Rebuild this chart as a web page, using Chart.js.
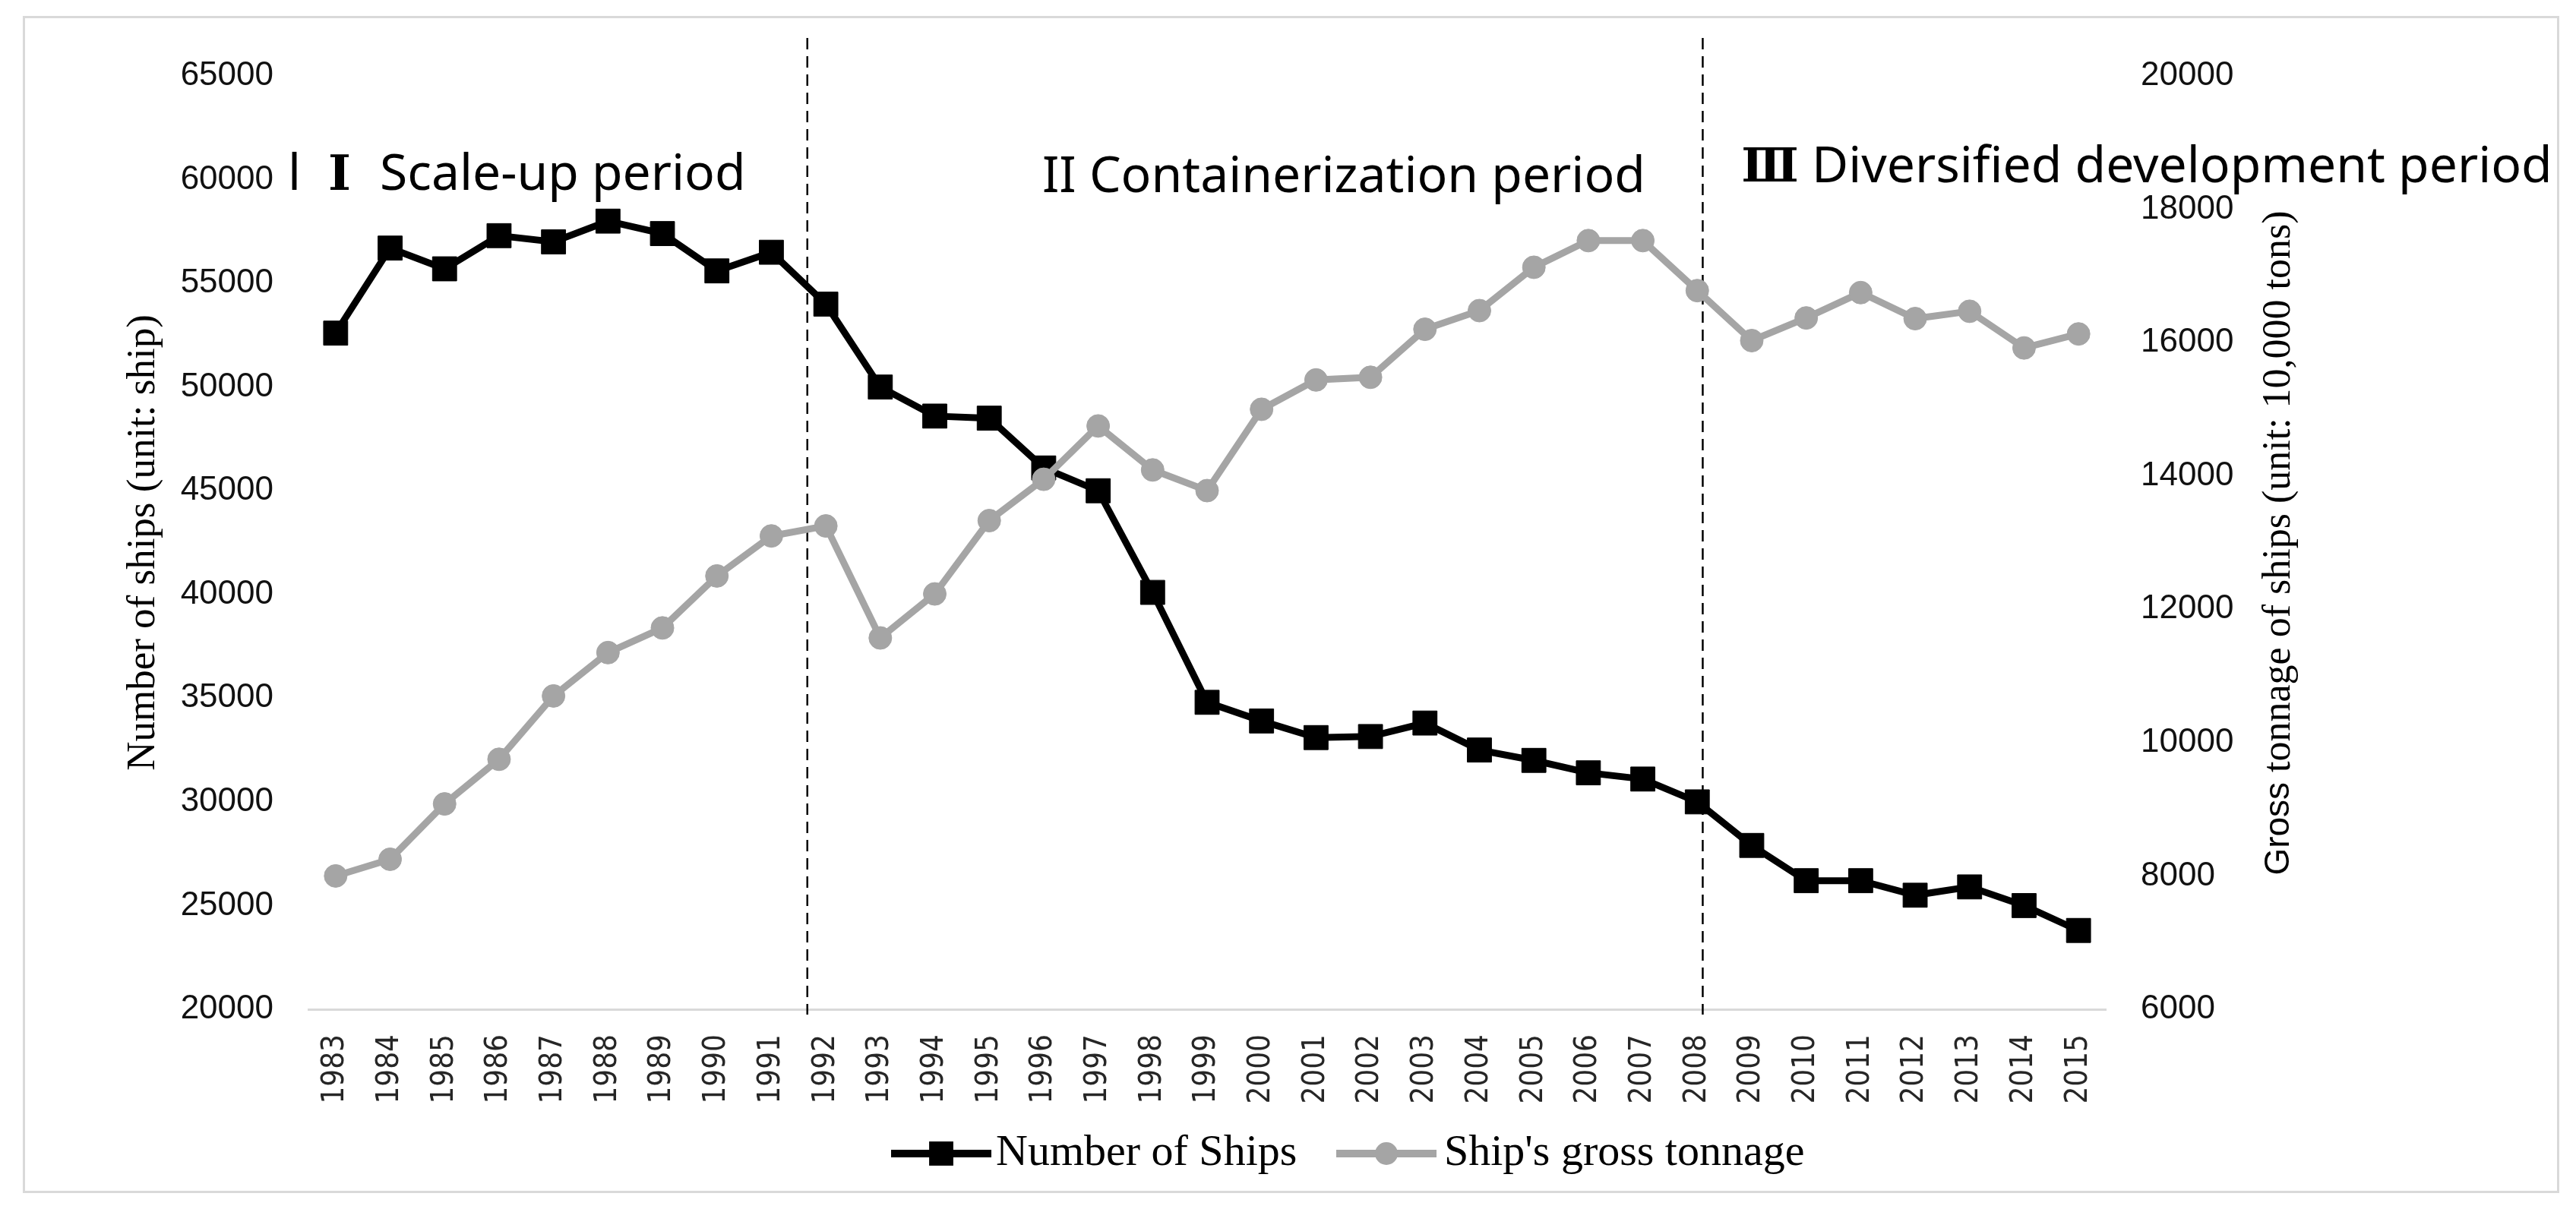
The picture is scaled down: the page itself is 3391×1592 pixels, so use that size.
<!DOCTYPE html>
<html>
<head>
<meta charset="utf-8">
<title>Number of ships and gross tonnage</title>
<script src="https://cdn.jsdelivr.net/npm/chart.js@4.4.0/dist/chart.umd.min.js"></script>
<style>
    html, body { margin: 0; padding: 0; background: #fff; }
    #wrap { width: 3391px; height: 1592px; }
</style>
</head>
<body>
<div id="wrap"><canvas id="ships-chart" width="3391" height="1592"></canvas></div>
<script>
// Categories and series
const years = ['1983', '1984', '1985', '1986', '1987', '1988', '1989', '1990', '1991', '1992',
    '1993', '1994', '1995', '1996', '1997', '1998', '1999', '2000', '2001', '2002',
    '2003', '2004', '2005', '2006', '2007', '2008', '2009', '2010', '2011', '2012',
    '2013', '2014', '2015'];
const shipCount = [52600, 56700, 55700, 57300, 57000, 58000, 57400, 55600, 56500, 54000,
    50000, 48600, 48500, 46100, 45000, 40100, 34800, 33900, 33100, 33150,
    33800, 32500, 32000, 31400, 31100, 30000, 27900, 26200, 26200, 25500,
    25900, 25000, 23800];
const grossTonnage = [8000, 8250, 9080, 9750, 10700, 11350, 11720, 12500, 13100, 13250,
    11570, 12230, 13330, 13950, 14750, 14090, 13780, 15000, 15440, 15480,
    16200, 16480, 17130, 17530, 17530, 16780, 16030, 16370, 16750, 16360,
    16470, 15920, 16130];

// Axis ranges: [min, max, step]
const shipAxis = [20000, 65000, 5000];
const tonnageAxis = [6000, 20000, 2000];

const seriesNames = ['Number of Ships', "Ship's gross tonnage"];
const periodNumerals = ['Ⅰ', '', 'Ⅲ'];
const periodNames = ['Scale-up period', 'II Containerization period', 'Diversified development period'];
// period boundaries, in category index units (1991|1992 and 2008)
const dividerAt = [8.66, 25.1];

const BLACK = '#000000';
const GRAY = '#A5A5A5';
const TICK_FONT = "'Liberation Sans', sans-serif";
const SERIF = "'Liberation Serif', serif";
const LABEL_FONT = "'Noto Sans', sans-serif";

// Frame + white background
const framePlugin = {
    id: 'frame',
    beforeDraw(chart) {
        const ctx = chart.ctx;
        ctx.save();
        ctx.fillStyle = '#ffffff';
        ctx.fillRect(0, 0, chart.width, chart.height);
        ctx.strokeStyle = '#d9d9d9';
        ctx.lineWidth = 3;
        ctx.strokeRect(31.5, 22.5, 3336, 1547);
        ctx.restore();
    }
};

// Dashed period dividers
const dividerPlugin = {
    id: 'dividers',
    beforeDatasetsDraw(chart) {
        const ctx = chart.ctx;
        const x = chart.scales.x;
        ctx.save();
        ctx.strokeStyle = BLACK;
        ctx.lineWidth = 2.5;
        ctx.setLineDash([15, 9]);
        dividerAt.forEach(idx => {
            const px = x.getPixelForValue(idx);
            ctx.beginPath();
            ctx.moveTo(px, 50);
            ctx.lineTo(px, chart.chartArea.bottom + 7);
            ctx.stroke();
        });
        ctx.restore();
    }
};

// Period captions
const periodPlugin = {
    id: 'periods',
    afterDatasetsDraw(chart) {
        const ctx = chart.ctx;
        ctx.save();
        ctx.fillStyle = BLACK;
        ctx.textBaseline = 'alphabetic';
        ctx.textAlign = 'left';
        ctx.font = `66px ${LABEL_FONT}`;
        // period I
        ctx.fillText('l', 379, 250);
        ctx.fillText(periodNames[0], 500, 250);
        // period II
        ctx.fillText(periodNames[1], 1372, 253);
        // period III
        ctx.fillText(periodNames[2], 2385, 240);
        // roman numerals (serif, as in the source)
        ctx.textAlign = 'center';
        ctx.font = "bold 64px 'DejaVu Serif', 'Noto Sans CJK SC', serif";
        ctx.fillText(periodNumerals[0], 447, 250);
        ctx.font = "bold 62px 'DejaVu Serif', 'Noto Sans CJK SC', serif";
        ctx.fillText(periodNumerals[2], 2330, 239);
        ctx.restore();
    }
};

// Right axis title: "Gross" in sans, rest in serif, reading bottom to top
const rightTitlePlugin = {
    id: 'rightTitle',
    afterDraw(chart) {
        const ctx = chart.ctx;
        const part1 = 'Gross';
        const part2 = ' tonnage of ships (unit: 10,000 tons)';
        const f1 = "46px 'Liberation Sans', sans-serif";
        const f2 = `52px ${SERIF}`;
        ctx.save();
        ctx.font = f1;
        const w1 = ctx.measureText(part1).width;
        ctx.font = f2;
        const w2 = ctx.measureText(part2).width;
        ctx.translate(3000, 715);
        ctx.rotate(-Math.PI / 2);
        ctx.fillStyle = BLACK;
        ctx.textBaseline = 'middle';
        ctx.textAlign = 'left';
        const start = -(w1 + w2) / 2;
        ctx.font = f1;
        ctx.fillText(part1, start, 0);
        ctx.font = f2;
        ctx.fillText(part2, start + w1, 0);
        ctx.restore();
    }
};

// Excel-like legend: line with marker through it
const legendPlugin = {
    id: 'lineLegend',
    afterDraw(chart) {
        const ctx = chart.ctx;
        const y = 1519;
        const items = [
            { x0: 1173, x1: 1305, tx: 1311, ds: chart.data.datasets[1] },
            { x0: 1759, x1: 1891, tx: 1901, ds: chart.data.datasets[0] }
        ];
        ctx.save();
        items.forEach(it => {
            const ds = it.ds;
            ctx.strokeStyle = ds.borderColor;
            ctx.lineWidth = 10;
            ctx.beginPath();
            ctx.moveTo(it.x0, y);
            ctx.lineTo(it.x1, y);
            ctx.stroke();
            const cx = (it.x0 + it.x1) / 2;
            ctx.fillStyle = ds.pointBackgroundColor;
            if (ds.pointStyle === 'rect') {
                const s = ds.pointRadius * Math.SQRT1_2;
                ctx.fillRect(cx - s, y - s, 2 * s, 2 * s);
            } else {
                ctx.beginPath();
                ctx.arc(cx, y, ds.pointRadius, 0, Math.PI * 2);
                ctx.fill();
            }
            ctx.fillStyle = BLACK;
            ctx.font = `58px ${SERIF}`;
            ctx.textBaseline = 'middle';
            ctx.textAlign = 'left';
            ctx.fillText(ds.label, it.tx, y);
        });
        ctx.restore();
    }
};

const ctx = document.getElementById('ships-chart');
const chart = new Chart(ctx.getContext('2d'), {
    type: 'line',
    data: {
        labels: years,
        datasets: [{
            label: seriesNames[1],
            data: grossTonnage,
            yAxisID: 'y1',
            borderColor: GRAY,
            backgroundColor: GRAY,
            borderWidth: 9,
            pointStyle: 'circle',
            pointRadius: 15,
            pointBackgroundColor: GRAY,
            pointBorderColor: GRAY,
            pointBorderWidth: 1,
            tension: 0
        }, {
            label: seriesNames[0],
            data: shipCount,
            yAxisID: 'y',
            borderColor: BLACK,
            backgroundColor: BLACK,
            borderWidth: 9,
            pointStyle: 'rect',
            pointRadius: 22.5,
            pointBackgroundColor: BLACK,
            pointBorderColor: BLACK,
            pointBorderWidth: 1,
            tension: 0
        }]
    },
    options: {
        responsive: false,
        devicePixelRatio: 1,
        animation: false,
        layout: {
            padding: { top: 100, bottom: 113, left: 0, right: 0 }
        },
        plugins: {
            legend: { display: false },
            tooltip: { enabled: false }
        },
        scales: {
            x: {
                offset: true,
                grid: { display: false, drawTicks: false },
                border: { display: true, color: '#d9d9d9', width: 3 },
                ticks: {
                    autoSkip: false,
                    minRotation: 90,
                    maxRotation: 90,
                    padding: 33,
                    color: '#262626',
                    font: { family: "'DejaVu Sans Condensed', 'DejaVu Sans', sans-serif", size: 40 }
                },
                afterFit(scale) { scale.height = 150; }
            },
            y: {
                position: 'left',
                min: shipAxis[0],
                max: shipAxis[1],
                grid: { display: false, drawTicks: false },
                border: { display: false },
                ticks: {
                    stepSize: shipAxis[2],
                    padding: 46,
                    color: '#111111',
                    font: { family: TICK_FONT, size: 44 },
                    callback: value => String(value)
                },
                title: {
                    display: true,
                    text: 'Number of ships (unit: ship)',
                    color: BLACK,
                    font: { family: SERIF, size: 53 },
                    padding: { top: 157, bottom: 0 }
                },
                afterFit(scale) { scale.width = 406; }
            },
            y1: {
                position: 'right',
                min: tonnageAxis[0],
                max: tonnageAxis[1],
                grid: { display: false, drawTicks: false },
                border: { display: false },
                ticks: {
                    stepSize: tonnageAxis[2],
                    padding: 46,
                    color: '#111111',
                    font: { family: TICK_FONT, size: 44 },
                    callback: value => String(value)
                },
                afterFit(scale) { scale.width = 619; }
            }
        }
    },
    plugins: [framePlugin, dividerPlugin, periodPlugin, rightTitlePlugin, legendPlugin]
});
</script>
</body>
</html>
